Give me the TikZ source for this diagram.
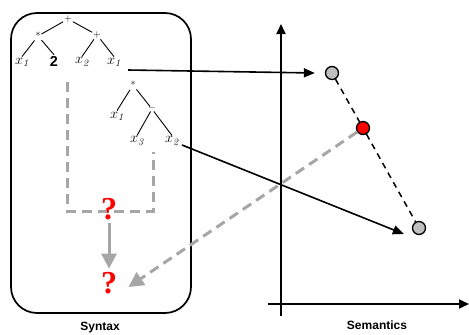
\documentclass[tikz,border=0pt]{standalone}
\usepackage{fontspec}
\setsansfont{Liberation Sans}
\newfontfamily\qfont{Liberation Serif}
\usetikzlibrary{arrows.meta}
\begin{document}
\begin{tikzpicture}[x=1pt,y=-1pt,
  leaf/.style={inner sep=1pt, font=\Large},
  op/.style={inner sep=0.8pt, font=\normalsize},
  tedge/.style={line width=0.9pt},
  gline/.style={draw=black!35, line width=3pt},
  gdash/.style={gline, dash pattern=on 10pt off 6pt},
  barrow/.style={line width=1.6pt, -{Triangle[length=11pt,width=9pt]}},
  garrow/.style={-{Triangle[length=15pt,width=15pt]}},
  pt/.style={circle, draw, line width=1.3pt, minimum size=13pt, inner sep=0pt},
  qm/.style={text=red, font=\qfont\fontsize{32}{32}\bfseries\selectfont},
  title/.style={font=\sffamily\bfseries\large}
]
\useasboundingbox (0,0) rectangle (469,335);

% syntax box
\draw[line width=1.7pt, rounded corners=26pt] (11,13) rectangle (191,313);
\node[title] (syn) at (100,328) {Syntax};

% tree 1
\node[op] (r1) at (68,19) {+};
\node[op] (m1) at (38,36) {*};
\node[op] (p1) at (97,35) {+};
\node[leaf] (a1) at (22,62) {$x_{\mathit{1}}$};
\node[leaf] (a2) at (54,61) {\sffamily\bfseries 2};
\node[leaf] (a3) at (82,62) {$x_{\mathit{2}}$};
\node[leaf] (a4) at (114,62) {$x_{\mathit{1}}$};
\draw[tedge] (r1) -- (m1);
\draw[tedge] (r1) -- (p1);
\draw[tedge] (m1) -- (a1.north);
\draw[tedge] (m1) -- (a2.north);
\draw[tedge] (p1) -- (a3.north);
\draw[tedge] (p1) -- (a4.north);

% tree 2
\node[op] (r2) at (133,85) {*};
\node[leaf] (b1) at (117,116) {$x_{\mathit{1}}$};
\node[op] (s2) at (152,109) {\textbf{--}};
\node[leaf] (b2) at (137,141) {$x_{\mathit{3}}$};
\node[leaf] (b3) at (172,141) {$x_{\mathit{2}}$};
\draw[tedge] (r2) -- (b1.north);
\draw[tedge] (r2) -- (s2);
\draw[tedge] (s2) -- (b2.north);
\draw[tedge] (s2) -- (b3.north);

% gray dashed bracket
\coordinate (g1) at (67,82);
\coordinate (g2) at (67,211);
\coordinate (g3) at (153,211);
\coordinate (g4) at (153,152);
\draw[gdash] (g1) -- (g2) -- (g3) -- (g4);

% question marks
\node[qm] (q1) at (109,209) {?};
\node[qm] (q2) at (109,283) {?};
\draw[gline, garrow] (q1.south) -- (q2.north);

% axes
\coordinate (yb) at (281,316);
\coordinate (yt) at (281,24);
\coordinate (xl) at (268,304);
\coordinate (xr) at (469,304);
\draw[line width=1.8pt, -{Triangle[length=10pt,width=9pt]}] (yb) -- (yt);
\draw[line width=1.8pt, -{Triangle[length=10pt,width=9pt]}] (xl) -- (xr);
\node[title] (sem) at (377,325) {Semantics};

% points
\node[pt, fill=black!25] (P1) at (332,73) {};
\node[pt, fill=red] (P2) at (363,128) {};
\node[pt, fill=black!25] (P3) at (419,228) {};
\draw[line width=1.5pt, dash pattern=on 6pt off 5pt] (P1) -- (P2) -- (P3);

% gray dashed arrow
\draw[gdash, garrow] (P2) -- ([xshift=8pt,yshift=-4pt]q2.east);

% black arrows
\draw[barrow] ([xshift=6pt,yshift=-8pt]a4.east) -- ([xshift=-10pt]P1.west);
\draw[barrow] ([xshift=2pt,yshift=-4pt]b3.east) -- ([xshift=-8pt,yshift=-6pt]P3.west);
\end{tikzpicture}
\end{document}
